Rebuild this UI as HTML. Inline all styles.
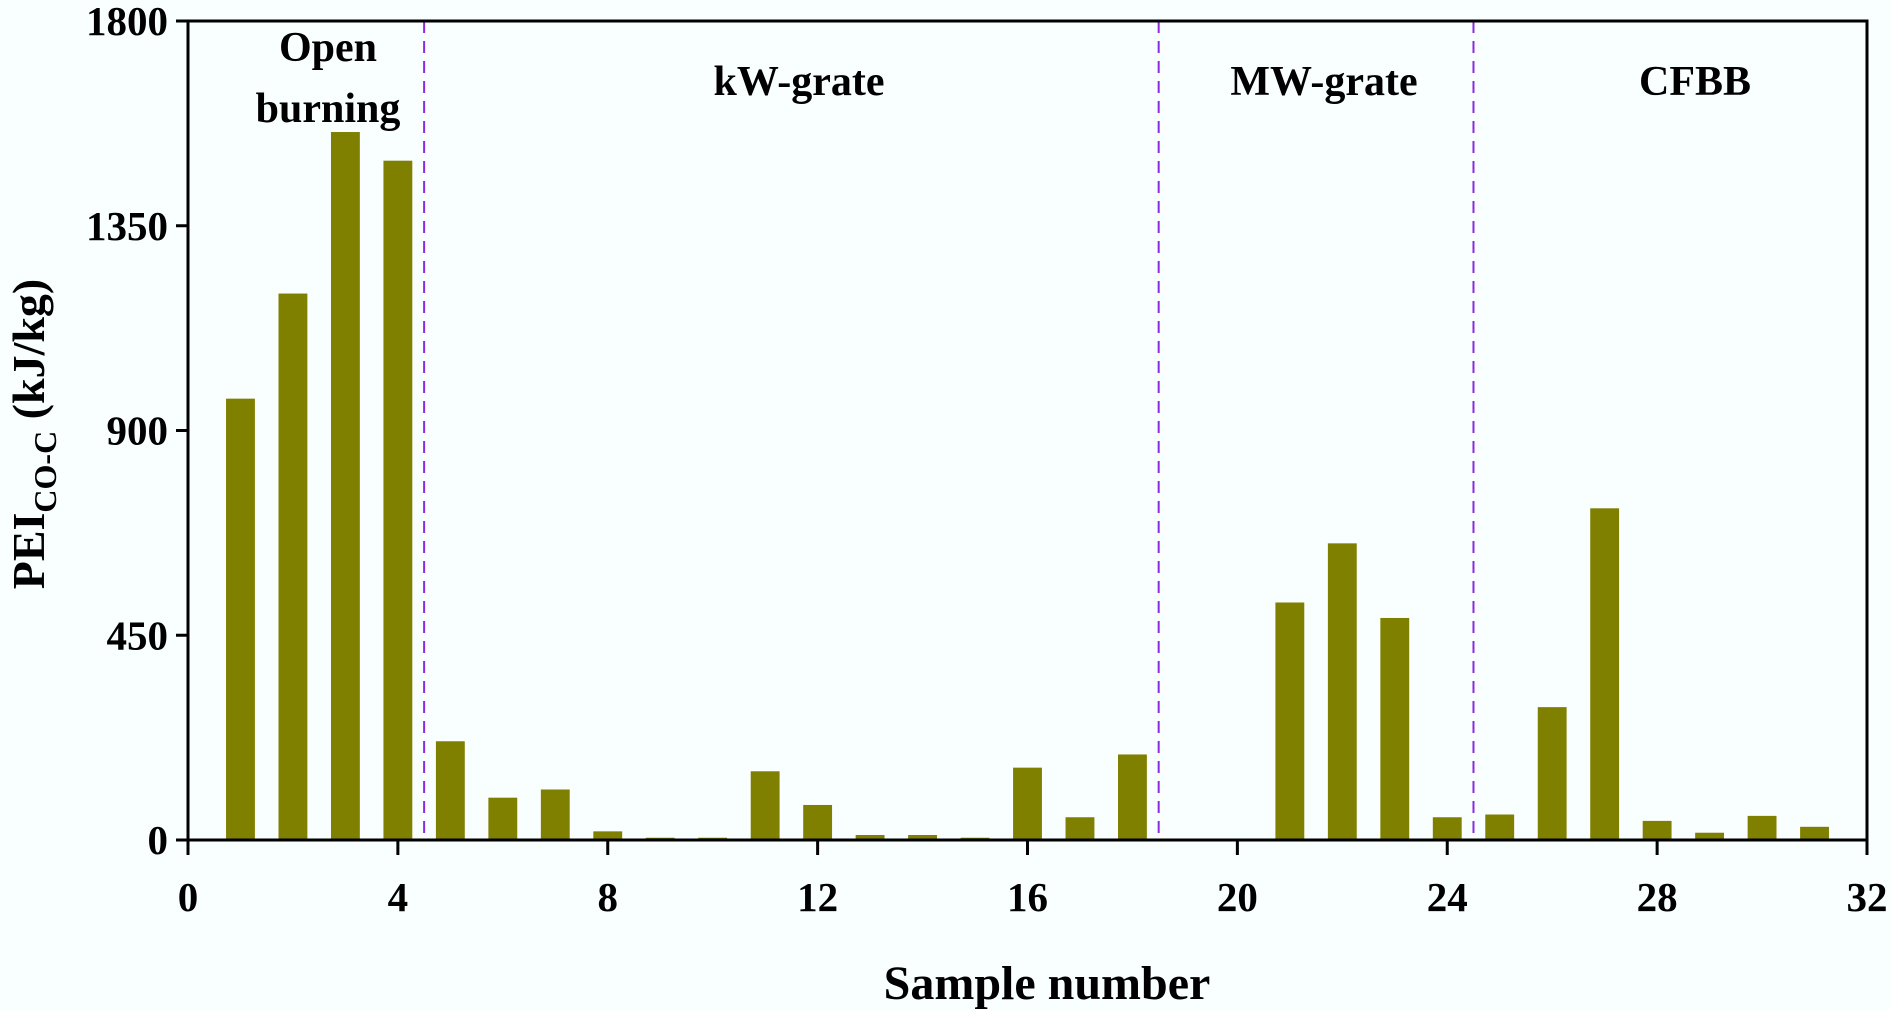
<!DOCTYPE html>
<html><head><meta charset="utf-8"><style>
html,body{margin:0;padding:0;background:#f9fefe;}
svg{display:block;}
svg text{font-family:"Liberation Serif","DejaVu Serif",serif;font-weight:bold;}
</style></head><body>
<svg id="chart" width="1890" height="1010" viewBox="0 0 1890 1010" xmlns="http://www.w3.org/2000/svg" font-family="Liberation Serif, serif" font-weight="bold">
<rect x="0" y="0" width="1890" height="1010" fill="#f9fefe"/>
<g id="bars"></g>
<g id="dividers"></g>
<rect x="188" y="21" width="1679" height="819" fill="none" stroke="#000" stroke-width="3"/>
<g id="axes"></g>
<text x="328" y="61" font-size="42" text-anchor="middle">Open</text>
<text x="328" y="122" font-size="42" text-anchor="middle">burning</text>
<text x="799" y="95" font-size="42" text-anchor="middle">kW-grate</text>
<text x="1324" y="95" font-size="42" text-anchor="middle">MW-grate</text>
<text x="1695" y="95" font-size="42" text-anchor="middle">CFBB</text>
<text x="1047" y="999" font-size="48" text-anchor="middle">Sample number</text>
<text transform="translate(44,434) rotate(-90)" font-size="46" text-anchor="middle">PEI<tspan font-size="32" dy="12">CO-C</tspan><tspan dy="-12"> (kJ/kg)</tspan></text>
</svg>
<script>
const samples=[1,2,3,4,5,6,7,8,9,10,11,12,13,14,15,16,17,18,19,20,21,22,23,24,25,26,27,28,29,30,31];
const values=[970,1201,1556,1493,217,93,111,19,5,5,151,77,11,11,5,159,50,188,0,0,522,652,488,50,56,292,729,42,16,53,29];
const xTicks=[0,4,8,12,16,20,24,28,32];
const yTicks=[0,450,900,1350,1800];
const dividerPositions=[4.5,18.5,24.5];
const X0=188,X1=1867,Y0=840,Y1=21;
function xs(v){return X0+(v-0)/(32-0)*(X1-X0);}
function ys(v){return Y0-(v-0)/(1800-0)*(Y0-Y1);}
const NS="http://www.w3.org/2000/svg";
const bars=document.getElementById('bars');
const bw=0.55*(xs(1)-xs(0));
samples.forEach((s,i)=>{
 if(values[i]<=0)return;
 const r=document.createElementNS(NS,'rect');
 r.setAttribute('x',xs(s)-bw/2);r.setAttribute('y',ys(values[i]));
 r.setAttribute('width',bw);r.setAttribute('height',ys(0)-ys(values[i]));
 r.setAttribute('fill','#7f7f00');
 
 
 bars.appendChild(r);
});
const dv=document.getElementById('dividers');
dividerPositions.forEach(d=>{
 const l=document.createElementNS(NS,'line');
 l.setAttribute('x1',xs(d));l.setAttribute('x2',xs(d));l.setAttribute('y1',Y1);l.setAttribute('y2',Y0);
 l.setAttribute('stroke','#8a2be2');l.setAttribute('stroke-width','2');l.setAttribute('stroke-dasharray','12,8');
 
 
 dv.appendChild(l);
});
const ax=document.getElementById('axes');
xTicks.forEach(t=>{
 const l=document.createElementNS(NS,'line');
 l.setAttribute('x1',xs(t));l.setAttribute('x2',xs(t));l.setAttribute('y1',Y0);l.setAttribute('y2',Y0+15);
 l.setAttribute('stroke','#000');l.setAttribute('stroke-width','3');
 
 
 ax.appendChild(l);
 const tx=document.createElementNS(NS,'text');
 tx.setAttribute('x',xs(t));tx.setAttribute('y',Y0+71);tx.setAttribute('font-size','41');tx.setAttribute('text-anchor','middle');
 tx.textContent=t;
 
 
 ax.appendChild(tx);
});
yTicks.forEach(t=>{
 const l=document.createElementNS(NS,'line');
 l.setAttribute('x1',X0-12);l.setAttribute('x2',X0);l.setAttribute('y1',ys(t));l.setAttribute('y2',ys(t));
 l.setAttribute('stroke','#000');l.setAttribute('stroke-width','3');
 
 
 ax.appendChild(l);
 const tx=document.createElementNS(NS,'text');
 tx.setAttribute('x',X0-20);tx.setAttribute('y',ys(t)+14);tx.setAttribute('font-size','41');tx.setAttribute('text-anchor','end');
 tx.textContent=t;
 
 
 ax.appendChild(tx);
});
</script>
</body></html>
